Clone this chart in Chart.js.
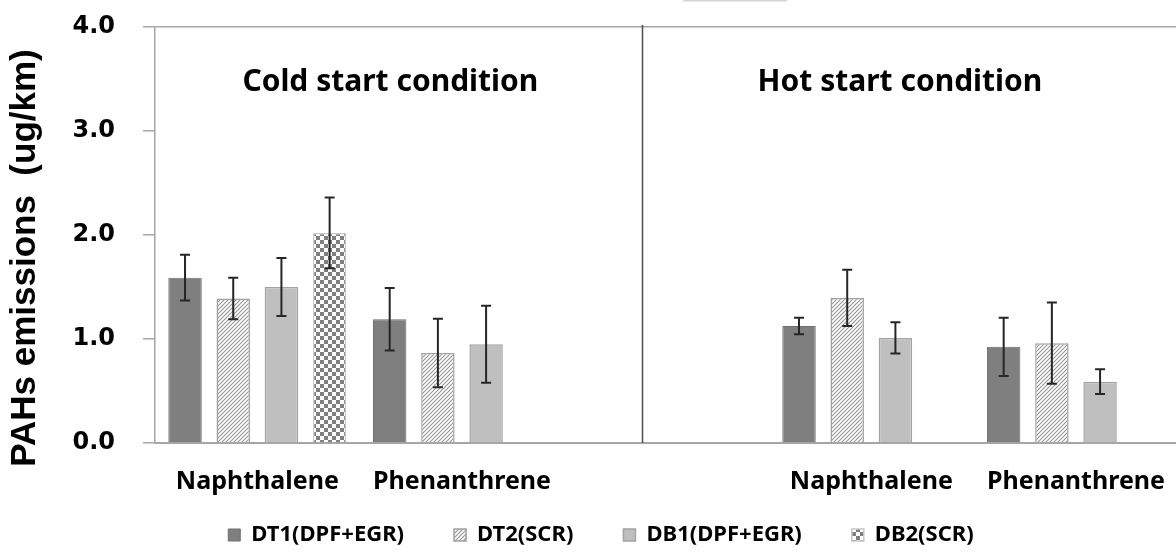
<!DOCTYPE html>
<html>
<head>
<meta charset="utf-8">
<script src="https://cdn.jsdelivr.net/npm/chart.js@4.4.0/dist/chart.umd.min.js"></script>
<style>
	html, body { margin: 0; padding: 0; background: #fff; overflow: hidden; width: 1176px; height: 552px; }
	#wrap { width: 1181px; height: 552px; }
</style>
</head>
<body>
<div id="wrap"><canvas id="pahs" width="1181" height="552"></canvas></div>
<script>
// --- data ---
var categories = ["Naphthalene", "Phenanthrene", "", "Naphthalene", "Phenanthrene"];
var seriesNames = ["DT1(DPF+EGR)", "DT2(SCR)", "DB1(DPF+EGR)", "DB2(SCR)"];

var dt1 = [1.59, 1.19, null, 1.125, 0.925];
var dt2 = [1.39, 0.865, null, 1.395, 0.96];
var db1 = [1.50, 0.95, null, 1.01, 0.59];
var db2 = [2.02, null, null, null, null];

var dt1Err = [0.22, 0.30, null, 0.08, 0.28];
var dt2Err = [0.20, 0.33, null, 0.27, 0.39];
var db1Err = [0.28, 0.37, null, 0.15, 0.12];
var db2Err = [0.34, null, null, null, null];

var yTicks = [0, 1, 2, 3, 4];
var panelTitles = ["Cold start condition", "Hot start condition"];
var yTitle = "PAHs emissions  (ug/km)";
// --- end data ---

// where the annotations sit, in axis units
var dividerAt = 1.88;
var panelTitleAt = [0.65, 3.14];
var panelTitleY = 3.47;

var canvas = document.getElementById('pahs');
var ctx = canvas.getContext('2d');

function hatchPattern() {
	var c = document.createElement('canvas');
	c.width = 4; c.height = 4;
	var g = c.getContext('2d');
	g.fillStyle = '#ffffff';
	g.fillRect(0, 0, 4, 4);
	g.strokeStyle = '#959595';
	g.lineWidth = 1.1;
	g.beginPath();
	g.moveTo(0, 4); g.lineTo(4, 0);
	g.moveTo(-1, 1); g.lineTo(1, -1);
	g.moveTo(3, 5); g.lineTo(5, 3);
	g.stroke();
	return ctx.createPattern(c, 'repeat');
}

function checkerPattern() {
	var c = document.createElement('canvas');
	c.width = 8; c.height = 8;
	var g = c.getContext('2d');
	g.fillStyle = '#ffffff';
	g.fillRect(0, 0, 8, 8);
	g.fillStyle = '#7f7f7f';
	g.fillRect(0, 0, 4, 4);
	g.fillRect(4, 4, 4, 4);
	return ctx.createPattern(c, 'repeat');
}

var errors = [dt1Err, dt2Err, db1Err, db2Err];

// error bars + annotations
var decor = {
	id: 'decor',
	afterDatasetsDraw: function(chart) {
		var c = chart.ctx, y = chart.scales.y;
		c.save();
		c.strokeStyle = '#262626';
		c.lineWidth = 2;
		chart.data.datasets.forEach(function(ds, i) {
			var meta = chart.getDatasetMeta(i);
			meta.data.forEach(function(bar, j) {
				var v = ds.data[j], e = errors[i][j];
				if (v == null || e == null) return;
				var hi = y.getPixelForValue(v + e), lo = y.getPixelForValue(v - e);
				c.beginPath();
				c.moveTo(bar.x, hi); c.lineTo(bar.x, lo);
				c.moveTo(bar.x - 5, hi); c.lineTo(bar.x + 5, hi);
				c.moveTo(bar.x - 5, lo); c.lineTo(bar.x + 5, lo);
				c.stroke();
			});
		});
		c.restore();
	},
	afterDraw: function(chart) {
		var c = chart.ctx, x = chart.scales.x, y = chart.scales.y, area = chart.chartArea;
		c.save();

		// divider between cold and hot
		var dx = Math.round(x.getPixelForValue(dividerAt)) + 0.5;
		c.strokeStyle = '#4d4d4d';
		c.lineWidth = 1.5;
		c.beginPath();
		c.moveTo(dx, area.top - 2);
		c.lineTo(dx, area.bottom);
		c.stroke();

		// bit of a box cut off at the top edge
		c.fillStyle = '#d6d6d6';
		c.fillRect(683, 0, 104, 1.5);

		// panel titles
		c.fillStyle = '#000';
		c.font = 'bold 30px "Noto Sans"';
		c.textAlign = 'center';
		c.textBaseline = 'middle';
		panelTitles.forEach(function(t, i) {
			c.fillText(t, x.getPixelForValue(panelTitleAt[i]), y.getPixelForValue(panelTitleY));
		});

		// y axis title
		c.translate(25, 258);
		c.rotate(-Math.PI / 2);
		c.font = 'bold 35px "Liberation Sans"';
		c.fillText(yTitle, 0, 0);
		c.restore();
	}
};

var pahsChart = new Chart(ctx, {
	type: 'bar',
	data: {
		labels: categories,
		datasets: [{
			label: seriesNames[0],
			data: dt1,
			backgroundColor: '#7f7f7f',
			borderColor: '#6e6e6e',
			borderWidth: 1
		}, {
			label: seriesNames[1],
			data: dt2,
			backgroundColor: hatchPattern(),
			borderColor: '#a0a0a0',
			borderWidth: 1.5
		}, {
			label: seriesNames[2],
			data: db1,
			backgroundColor: '#bfbfbf',
			borderColor: '#a3a3a3',
			borderWidth: 1.5
		}, {
			label: seriesNames[3],
			data: db2,
			backgroundColor: checkerPattern(),
			borderColor: '#c8c8c8',
			borderWidth: 1.5
		}]
	},
	options: {
		responsive: false,
		animation: false,
		categoryPercentage: 0.942,
		barPercentage: 0.694,
		layout: {
			padding: { left: 21, right: 0, top: 27, bottom: -4 }
		},
		plugins: {
			tooltip: { enabled: false },
			legend: {
				position: 'bottom',
				labels: {
					color: '#000',
					boxWidth: 12,
					boxHeight: 12,
					padding: 10,
					font: { family: '"Noto Sans"', size: 22, weight: 'bold' },
					// wide gaps between items, without a tall legend box
					generateLabels: function(chart) {
						var items = Chart.defaults.plugins.legend.labels.generateLabels(chart);
						items.forEach(function(it, i) {
							if (i < items.length - 1) it.text = it.text + '       ';
						});
						return items;
					}
				}
			}
		},
		scales: {
			x: {
				afterFit: function(s) { s.height = 71; },
				grid: { display: false },
				border: { color: '#a6a6a6', width: 2 },
				ticks: {
					color: '#000',
					padding: 16,
					maxRotation: 0,
					autoSkip: false,
					font: { family: '"Noto Sans"', size: 25, weight: 'bold' }
				}
			},
			y: {
				min: 0,
				max: 4,
				afterFit: function(s) {
					s.width = 134;
					s.paddingTop = 0;
					s.paddingBottom = 0;
				},
				afterBuildTicks: function(s) {
					s.ticks = yTicks.map(function(v) { return { value: v }; });
				},
				grid: {
					color: function(c) { return c.tick && c.tick.value === 4 ? '#a6a6a6' : 'rgba(0,0,0,0)'; },
					tickColor: '#a6a6a6',
					tickLength: 12,
					lineWidth: 1.5
				},
				border: { color: '#a6a6a6', width: 1.5 },
				ticks: {
					color: '#000',
					padding: 28,
					font: { family: '"DejaVu Sans"', size: 24, weight: 'bold' },
					callback: function(v) { return Number(v).toFixed(1); }
				}
			}
		}
	},
	plugins: [decor]
});
</script>
</body>
</html>
